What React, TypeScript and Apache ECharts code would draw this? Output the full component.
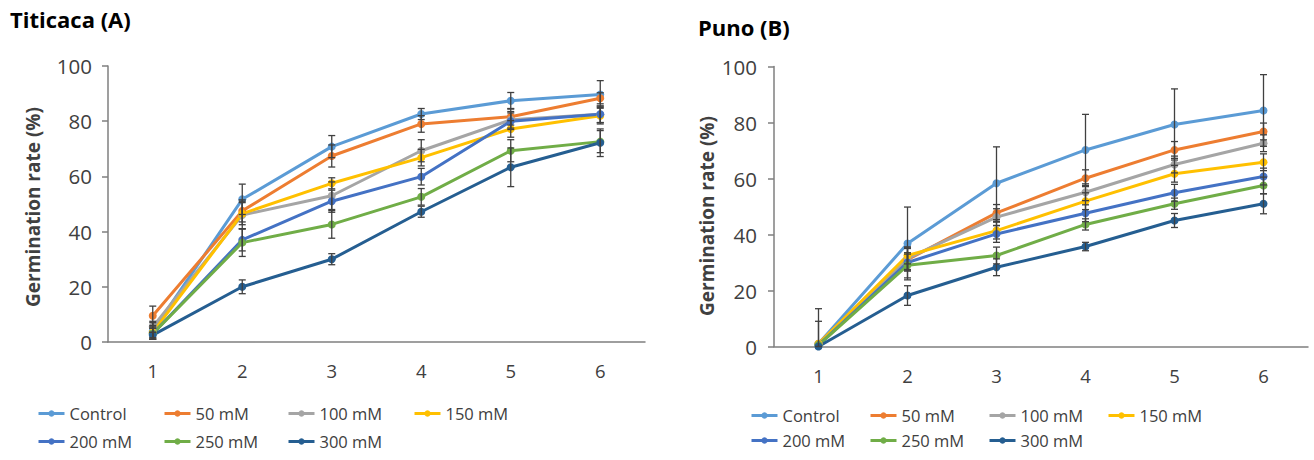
import React, { useEffect, useRef } from "react";
import * as echarts from "echarts";

const categories = ["1", "2", "3", "4", "5", "6"];
const seriesNames = ["Control", "50 mM", "100 mM", "150 mM", "200 mM", "250 mM", "300 mM"];
const colors = ["#5B9BD5", "#ED7D31", "#A5A5A5", "#FFC000", "#4472C4", "#70AD47", "#255E91"];

// Titicaca (A)
const aControl = [4, 51.7, 70.8, 82.6, 87.4, 89.7];
const a50 = [9.5, 47.5, 67.4, 79, 81.6, 88.3];
const a100 = [5.5, 46, 53, 69.3, 80.5, 82.5];
const a150 = [3.5, 46.5, 57.5, 66.8, 77.2, 82];
const a200 = [3, 37, 51, 59.9, 80, 82.5];
const a250 = [3, 36, 42.6, 52.6, 69.3, 72.6];
const a300 = [2.5, 20, 30, 47.2, 63.3, 72.2];
const aErrControl = [3, 5.5, 4, 2, 3, 5];
const aErr50 = [3.5, 4, 4, 3, 3, 2];
const aErr100 = [2, 5, 5, 4, 3, 3];
const aErr150 = [2, 4, 2, 3, 3, 3];
const aErr200 = [2, 4, 4, 3, 3, 3];
const aErr250 = [2, 5, 5, 3, 4, 4];
const aErr300 = [1, 2.5, 2, 2, 7, 5];

// Puno (B)
const bControl = [1, 36.8, 58.3, 70.2, 79.3, 84.3];
const b50 = [1, 31, 47.7, 60.1, 70.2, 76.8];
const b100 = [1, 31.5, 46.2, 55.1, 65, 72.6];
const b150 = [1, 32.5, 41.4, 51.9, 61.7, 65.8];
const b200 = [0.5, 30, 40.2, 47.6, 54.9, 60.7];
const b250 = [0.5, 29, 32.5, 43.6, 51, 57.5];
const b300 = [0, 18.2, 28.3, 35.7, 45, 51];
const bErrControl = [12.5, 13, 13, 12.7, 12.7, 12.8];
const bErr50 = [8, 4, 3, 3, 3, 3];
const bErr100 = [0, 4, 3, 3, 3, 3];
const bErr150 = [0, 3, 3, 3, 3, 3];
const bErr200 = [0, 3, 3, 3, 3, 3];
const bErr250 = [0, 4.5, 3, 2, 2, 3];
const bErr300 = [0, 3.5, 3, 1.5, 2.5, 3.6];

const yTicks = [0, 20, 40, 60, 80, 100];

const aValues = [aControl, a50, a100, a150, a200, a250, a300];
const aErrors = [aErrControl, aErr50, aErr100, aErr150, aErr200, aErr250, aErr300];
const bValues = [bControl, b50, b100, b150, b200, b250, b300];
const bErrors = [bErrControl, bErr50, bErr100, bErr150, bErr200, bErr250, bErr300];

const FONT = "'Open Sans', 'Noto Sans', sans-serif";
const AXIS_COLOR = "#7F7F7F";
const TEXT_COLOR = "#404040";

function errorSeries(values: number[][], errors: number[][], idx: number) {
  const data: number[][] = [];
  values.forEach((vals, s) => {
    vals.forEach((v, i) => {
      if (errors[s][i] > 0) data.push([i, v, errors[s][i]]);
    });
  });
  return {
    type: "custom",
    xAxisIndex: idx,
    yAxisIndex: idx,
    z: 5,
    silent: true,
    data,
    renderItem: (params: any, api: any) => {
      const x = api.value(0);
      const v = api.value(1);
      const e = api.value(2);
      const top = api.coord([x, v + e]);
      const bot = api.coord([x, Math.max(0, v - e)]);
      const cap = 3.5;
      const style = { stroke: "#404040", lineWidth: 1.3 };
      return {
        type: "group",
        children: [
          { type: "line", shape: { x1: top[0], y1: top[1], x2: bot[0], y2: bot[1] }, style },
          { type: "line", shape: { x1: top[0] - cap, y1: top[1], x2: top[0] + cap, y2: top[1] }, style },
          { type: "line", shape: { x1: bot[0] - cap, y1: bot[1], x2: bot[0] + cap, y2: bot[1] }, style },
        ],
      };
    },
  };
}

function lineSeries(values: number[][], idx: number) {
  return values.map((vals, s) => ({
    name: seriesNames[s],
    type: "line",
    xAxisIndex: idx,
    yAxisIndex: idx,
    data: vals,
    symbol: "circle",
    symbolSize: 8,
    z: 3,
    lineStyle: { width: 3, color: colors[s] },
    itemStyle: { color: colors[s] },
  }));
}

function legendItem(name: string, x: number, top: number) {
  return {
    data: [name],
    left: x - 5,
    top,
    orient: "horizontal",
    itemWidth: 26,
    itemHeight: 8,
    selectedMode: false,
    lineStyle: { width: 3 },
    textStyle: { color: TEXT_COLOR, fontFamily: FONT, fontSize: 16.5 },
  };
}

// legend grid positions (columns of icons, row tops)
const legendColsA = [37, 163, 287, 413];
const legendRowsA = [400, 428];
const legendColsB = [750, 869, 988, 1107];
const legendRowsB = [402, 427];

function legendBlock(cols: number[], rows: number[]) {
  return seriesNames.map((n, i) => legendItem(n, cols[i % 4], rows[Math.floor(i / 4)]));
}

function xAxis(idx: number) {
  return {
    type: "category",
    gridIndex: idx,
    data: categories,
    boundaryGap: true,
    axisLine: { lineStyle: { color: AXIS_COLOR, width: 1.5 } },
    axisTick: { show: false },
    axisLabel: { color: TEXT_COLOR, fontFamily: FONT, fontSize: 18.5, margin: 19 },
    splitLine: { show: false },
  };
}

function yAxis(idx: number, margin: number) {
  return {
    type: "value",
    gridIndex: idx,
    min: yTicks[0],
    max: yTicks[yTicks.length - 1],
    interval: 20,
    axisLine: { show: true, lineStyle: { color: AXIS_COLOR, width: 1.5 } },
    axisTick: { show: true, length: 6, lineStyle: { color: AXIS_COLOR, width: 1.5 } },
    axisLabel: { color: TEXT_COLOR, fontFamily: FONT, fontSize: 20.5, margin },
    splitLine: { show: false },
  };
}

export default function App() {
  const ref = useRef<HTMLDivElement>(null);
  useEffect(() => {
    if (!ref.current) return;
    const chart = echarts.init(ref.current, null, { renderer: "svg" });
    const axisTitle = {
      text: "Germination rate (%)",
      fontFamily: FONT,
      fontWeight: "bold",
      fontSize: 19,
      fill: TEXT_COLOR,
      align: "center",
      verticalAlign: "middle",
    };
    chart.setOption({
      animation: false,
      backgroundColor: "#ffffff",
      grid: [
        { left: 108, top: 66, width: 537, height: 276 },
        { left: 774, top: 66.5, width: 534, height: 280 },
      ],
      xAxis: [xAxis(0), xAxis(1)],
      yAxis: [yAxis(0, 16), yAxis(1, 17)],
      legend: [...legendBlock(legendColsA, legendRowsA), ...legendBlock(legendColsB, legendRowsB)],
      graphic: [
        {
          type: "text",
          x: 10,
          y: 8,
          style: { text: "Titicaca (A)", fontFamily: FONT, fontWeight: "bold", fontSize: 22, fill: "#000000" },
        },
        {
          type: "text",
          x: 698,
          y: 16,
          style: { text: "Puno (B)", fontFamily: FONT, fontWeight: "bold", fontSize: 22, fill: "#000000" },
        },
        { type: "text", x: 33, y: 207, rotation: Math.PI / 2, style: axisTitle },
        { type: "text", x: 707, y: 216, rotation: Math.PI / 2, style: axisTitle },
      ],
      series: [
        ...lineSeries(aValues, 0),
        ...lineSeries(bValues, 1),
        errorSeries(aValues, aErrors, 0),
        errorSeries(bValues, bErrors, 1),
      ],
    });
    return () => chart.dispose();
  }, []);
  return (
    <div
      ref={ref}
      style={{ position: "absolute", left: 0, top: 0, width: 1314, height: 460 }}
    />
  );
}
